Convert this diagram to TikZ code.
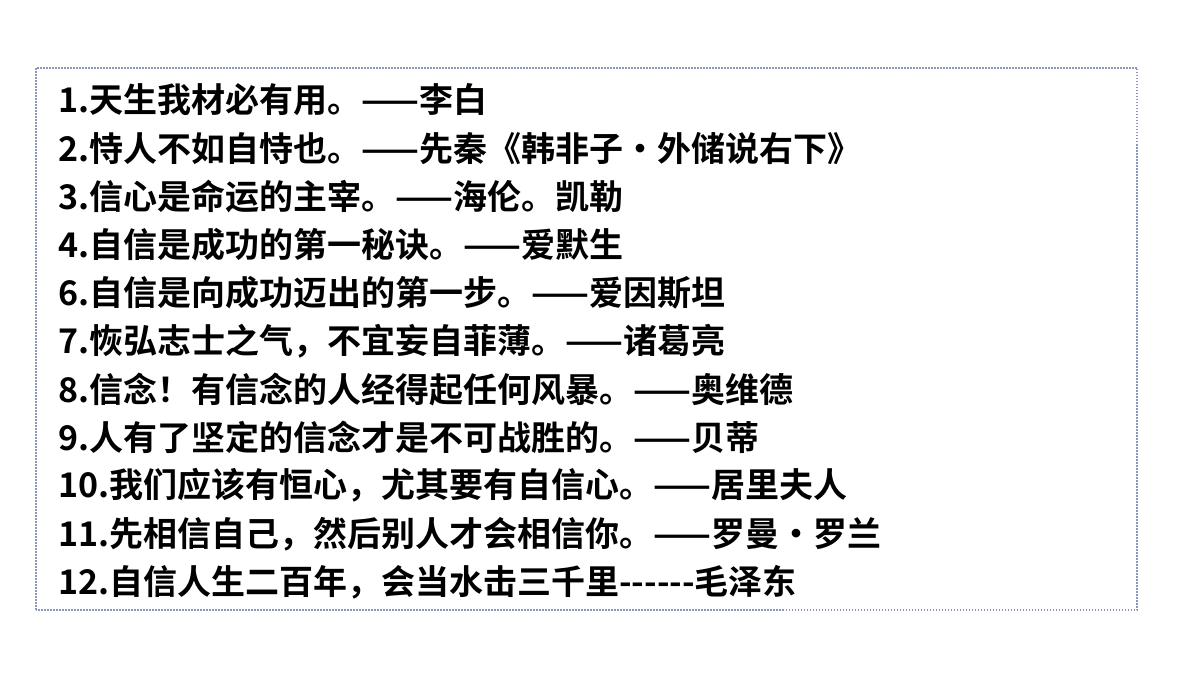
\documentclass[tikz,border=0pt]{standalone}
\usepackage{fontspec}
\setmainfont{Noto Sans CJK SC}[BoldFont={* Bold}]
\newfontfamily\cjkb{Noto Sans CJK SC Bold}
\definecolor{bordc}{RGB}{140,150,185}
\begin{document}
\begin{tikzpicture}[x=1pt,y=1pt,
  line/.style={anchor=west,inner sep=0pt,font=\cjkb\fontsize{34}{34}\selectfont}]
\useasboundingbox (0,0) rectangle (1200,675);
\draw[color=bordc,line width=2pt,dash pattern=on 1.5pt off 1.5pt] (36,65) rectangle (1137,607);
\foreach \t [count=\i] in {
1.天生我材必有用。——李白,
2.恃人不如自恃也。——先秦《韩非子•外储说右下》,
3.信心是命运的主宰。——海伦。凯勒,
4.自信是成功的第一秘诀。——爱默生,
6.自信是向成功迈出的第一步。——爱因斯坦,
7.恢弘志士之气，不宜妄自菲薄。——诸葛亮,
8.信念！有信念的人经得起任何风暴。——奥维德,
9.人有了坚定的信念才是不可战胜的。——贝蒂,
10.我们应该有恒心，尤其要有自信心。——居里夫人,
11.先相信自己，然后别人才会相信你。——罗曼•罗兰,
12.自信人生二百年，会当水击三千里------毛泽东}
  \node[line] (l\i) at (58,{675-100-48.2*(\i-1)}) {\t};
\end{tikzpicture}
\end{document}
